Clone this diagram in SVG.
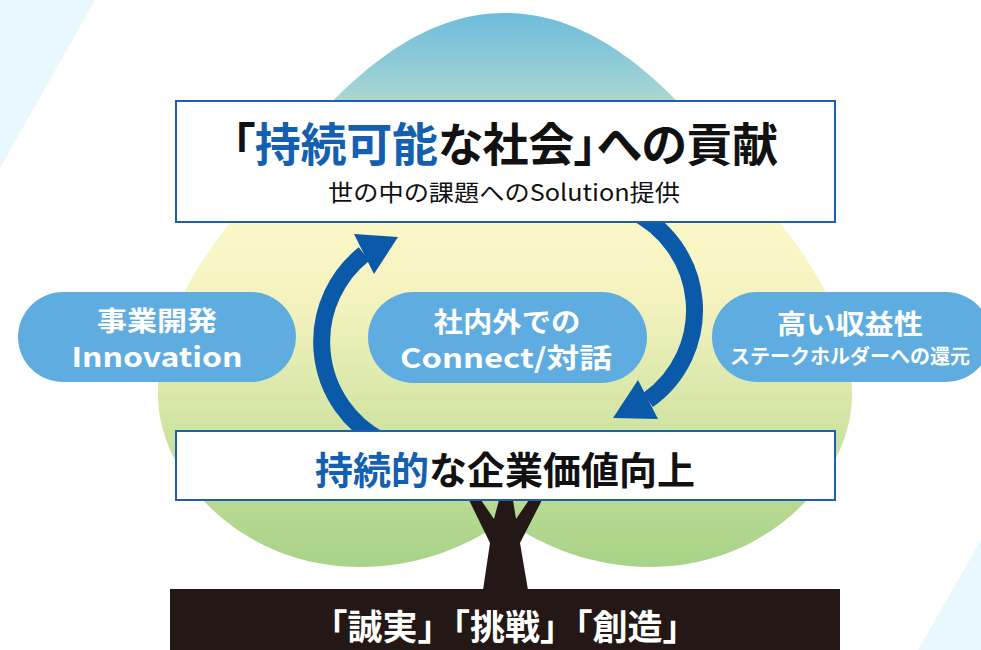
<svg xmlns="http://www.w3.org/2000/svg" width="981" height="650" viewBox="0 0 981 650">
  <defs>
    <linearGradient id="crownFill" gradientUnits="userSpaceOnUse" x1="0" y1="13" x2="0" y2="567">
      <stop offset="0" stop-color="#6dbcdc"/>
      <stop offset="0.16" stop-color="#abd7d2"/>
      <stop offset="0.38" stop-color="#fbf8c8"/>
      <stop offset="0.52" stop-color="#f4f3bf"/>
      <stop offset="0.75" stop-color="#d0e4a2"/>
      <stop offset="0.88" stop-color="#b8da92"/>
      <stop offset="1" stop-color="#a8d388"/>
    </linearGradient>
  </defs>
  <style>
    .jp { font-family: 'Noto Sans CJK JP', 'Noto Sans', sans-serif; }
    .prop { font-feature-settings: "palt"; }
    .box { fill: #ffffff; stroke: #1d5fae; stroke-width: 2; }
    .pill { fill: #5fade0; }
    .pilltext { fill: #ffffff; font-weight: bold; text-anchor: middle; }
    .loop { fill: none; stroke: #0a5aa9; stroke-width: 17; }
    .head { fill: #0a5aa9; }
    .accent { fill: #1460b0; }
  </style>

  <!-- corner accents -->
  <polygon points="0,0 95,0 0,168" fill="#e9f8fc"/>
  <polygon points="981,540 981,650 918,650" fill="#e9f8fc"/>

  <!-- tree crown -->
  <g id="crown">
    <path d="M505,13 C590,13 660,75 725,155 C790,235 852,300 852,395 C852,475 770,567 650,567 C590,567 540,545 505,520 C470,545 420,567 360,567 C240,567 158,475 158,395 C158,300 220,235 285,155 C350,75 420,13 505,13 Z" fill="url(#crownFill)"/>
  </g>

  <!-- trunk -->
  <g id="trunk">
    <polygon points="469,500 481,500 494,519 499,500 513,500 516,519 529,500 542,500 520,543 528,590 483,590 490,543" fill="#231815"/>
  </g>

  <!-- ground bar with values -->
  <g id="values">
    <rect x="170" y="589" width="670" height="61" fill="#231815"/>
    <text class="jp" x="505" y="640" font-size="35" font-weight="bold" fill="#ffffff" text-anchor="middle">「誠実」「挑戦」「創造」</text>
  </g>

  <!-- cycle arrows -->
  <g id="connectors">
    <path class="loop" d="M380,440 A112,112 0 0 1 364,254"/>
    <polygon class="head" points="354,234 398,237 374,274"/>
    <path class="loop" d="M630,210 A110,110 0 0 1 648,400"/>
    <polygon class="head" points="638,380 613,418 658,419"/>
  </g>

  <!-- top goal -->
  <g id="goal">
    <rect class="box" x="176" y="101" width="659" height="121"/>
    <text class="jp prop" x="505" y="161" font-size="46" font-weight="bold" text-anchor="middle" fill="#111111" textLength="546" lengthAdjust="spacing">「<tspan class="accent">持続可能</tspan>な社会」への貢献</text>
    <text class="jp" x="504" y="201" font-size="23" text-anchor="middle" fill="#111111" textLength="352" lengthAdjust="spacingAndGlyphs">世の中の課題へのSolution提供</text>
  </g>

  <!-- base value -->
  <g id="value">
    <rect class="box" x="176" y="431" width="659" height="69"/>
    <text class="jp" x="505" y="484" font-size="38" font-weight="bold" text-anchor="middle" fill="#111111"><tspan class="accent">持続的</tspan>な企業価値向上</text>
  </g>

  <!-- left: business development -->
  <g id="innovation">
    <rect class="pill" x="18" y="292" width="278" height="90" rx="45"/>
    <text class="jp pilltext" x="157" y="331" font-size="27" textLength="120" lengthAdjust="spacingAndGlyphs">事業開発</text>
    <text class="jp pilltext" x="157" y="367" font-size="27" textLength="171" lengthAdjust="spacingAndGlyphs">Innovation</text>
  </g>

  <!-- centre: dialogue -->
  <g id="connect">
    <rect class="pill" x="368" y="292" width="279" height="91" rx="45.5"/>
    <text class="jp pilltext" x="507" y="332" font-size="27" textLength="147" lengthAdjust="spacingAndGlyphs">社内外での</text>
    <text class="jp pilltext" x="506" y="368" font-size="27" textLength="212" lengthAdjust="spacingAndGlyphs">Connect/対話</text>
  </g>

  <!-- right: profitability -->
  <g id="profit">
    <rect class="pill" x="712" y="292" width="279" height="90" rx="45"/>
    <text class="jp pilltext" x="850" y="334" font-size="27" textLength="146" lengthAdjust="spacingAndGlyphs">高い収益性</text>
    <text class="jp pilltext" x="850" y="364" font-size="20">ステークホルダーへの還元</text>
  </g>
</svg>
